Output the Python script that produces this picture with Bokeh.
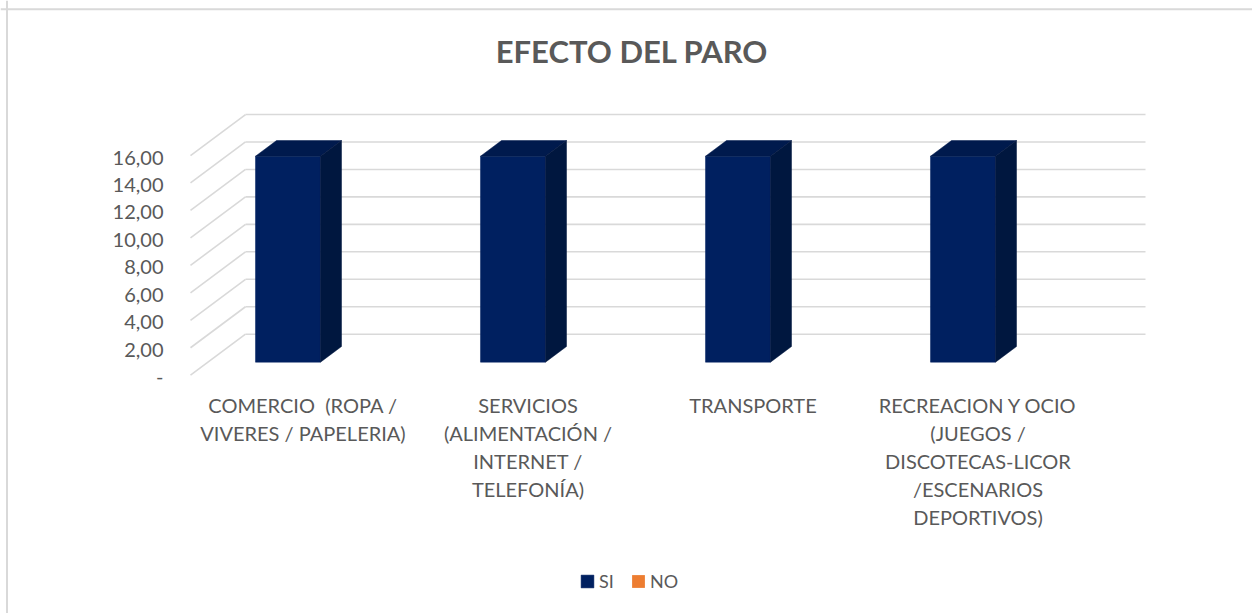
import numpy as np
from bokeh.plotting import figure
from bokeh.models import Range1d, Span, Legend, LegendItem
from bokeh.core.properties import value
from bokeh.embed import file_html
from bokeh.resources import INLINE

# ---------------- data ----------------
categories = [
    "COMERCIO \u00a0(ROPA /\nVIVERES / PAPELERIA)",
    "SERVICIOS\n(ALIMENTACIÓN /\nINTERNET /\nTELEFONÍA)",
    "TRANSPORTE",
    "RECREACION Y OCIO\n(JUEGOS /\nDISCOTECAS-LICOR\n/ESCENARIOS\nDEPORTIVOS)",
]
si_values = [15.0, 15.0, 15.0, 15.0]
no_values = [0.0, 0.0, 0.0, 0.0]
y_ticks = [0, 2, 4, 6, 8, 10, 12, 14, 16]
y_tick_labels = ["-", "2,00", "4,00", "6,00", "8,00", "10,00", "12,00", "14,00", "16,00"]
title_text = "EFECTO DEL PARO"

# ---------------- layout / style ----------------
W, H = 1252, 613
PXX = 225.0          # pixels per category
PXY = 13.73          # pixels per value unit
X0, Y0 = 190.0, 374.7  # image position of front floor origin
DX = 55.0 / PXX       # depth offset (category units)
DY = 41.0 / PXY       # depth offset (value units)
D1, D2 = 0.318, 0.70  # bar depth span
BAR_W = 65.0 / PXX
FONT = "Lato"
TXT = "#595959"
GRID = "#d9d9d9"
FRONT, TOP, SIDE = "#002060", "#001a4d", "#00173f"
NO_COLOR = "#ED7D31"

def ix(px):  # image x pixel -> data x
    return (px - X0) / PXX

def iy(py):  # image y pixel -> data y
    return (Y0 - py) / PXY

p = figure(width=W, height=H, output_backend="svg", toolbar_location=None,
           x_range=Range1d(ix(0), ix(W)), y_range=Range1d(iy(H), iy(0)),
           min_border=0, outline_line_color=None)
p.xaxis.visible = False
p.yaxis.visible = False
p.grid.visible = False
p.background_fill_color = "white"
p.border_fill_color = "white"

n = len(categories)
ncat = np.arange(n)

# back wall gridlines and side-wall diagonals
gx, gy = [], []
for v in y_ticks:
    gx.append([0 + DX, n + DX]); gy.append([v + DY, v + DY])
    gx.append([0, DX]); gy.append([v, v + DY])
p.multi_line(gx, gy, line_color=GRID, line_width=1.6)

# bars (SI)
si = np.array(si_values)
xl = ncat + 0.5 - BAR_W
xr = ncat + 0.5
front = p.quad(left=xl + D1 * DX, right=xr + D1 * DX, bottom=np.zeros(n) + D1 * DY,
               top=si + D1 * DY, fill_color=FRONT, line_color=FRONT, line_width=0.5)
top_xs = [[a + D1 * DX, b + D1 * DX, b + D2 * DX, a + D2 * DX] for a, b in zip(xl, xr)]
top_ys = [[v + D1 * DY, v + D1 * DY, v + D2 * DY, v + D2 * DY] for v in si]
p.patches(top_xs, top_ys, fill_color=TOP, line_color=TOP, line_width=0.5)
side_xs = [[b + D1 * DX, b + D2 * DX, b + D2 * DX, b + D1 * DX] for b in xr]
side_ys = [[D1 * DY, D2 * DY, v + D2 * DY, v + D1 * DY] for v in si]
p.patches(side_xs, side_ys, fill_color=SIDE, line_color=SIDE, line_width=0.5)

# bars (NO) - zero height
no = np.array(no_values)
no_r = p.quad(left=xr + D1 * DX, right=xr + BAR_W + D1 * DX, bottom=np.zeros(n) + D1 * DY,
              top=no + D1 * DY, fill_color=NO_COLOR, line_color=None)

# y tick labels
p.text(x=[ix(163)] * len(y_ticks), y=[v - 2.0 / PXY for v in y_ticks], text=y_tick_labels,
       text_font=value(FONT), text_font_size="20px", text_color=TXT,
       text_align="right", text_baseline="middle")

# category labels
p.text(x=ncat + 0.5, y=[iy(392)] * n, text=categories,
       text_font=value(FONT), text_font_size="20px", text_color=TXT,
       text_align="center", text_baseline="top", text_line_height=1.167)

# title
p.text(x=[ix(631.5)], y=[iy(50.0)], text=[title_text], text_font=value(FONT),
       text_font_size="31px", text_font_style="bold", text_color=TXT,
       text_align="center", text_baseline="alphabetic")

# chart border (top and left)
p.add_layout(Span(location=ix(6.5), dimension="height", line_color=GRID, line_width=2))
p.add_layout(Span(location=iy(8.8), dimension="width", line_color=GRID, line_width=2))

legend = Legend(items=[LegendItem(label="SI", renderers=[front]),
                       LegendItem(label="NO", renderers=[no_r])],
                orientation="horizontal", location=(579, 21),
                glyph_width=16, glyph_height=16, label_height=16,
                label_standoff=4, spacing=11, padding=0, margin=0,
                border_line_color=None, background_fill_alpha=0,
                label_text_font=FONT, label_text_font_size="18px",
                label_text_color=TXT)
p.add_layout(legend)

open("out.html", "w").write(file_html(p, INLINE))
